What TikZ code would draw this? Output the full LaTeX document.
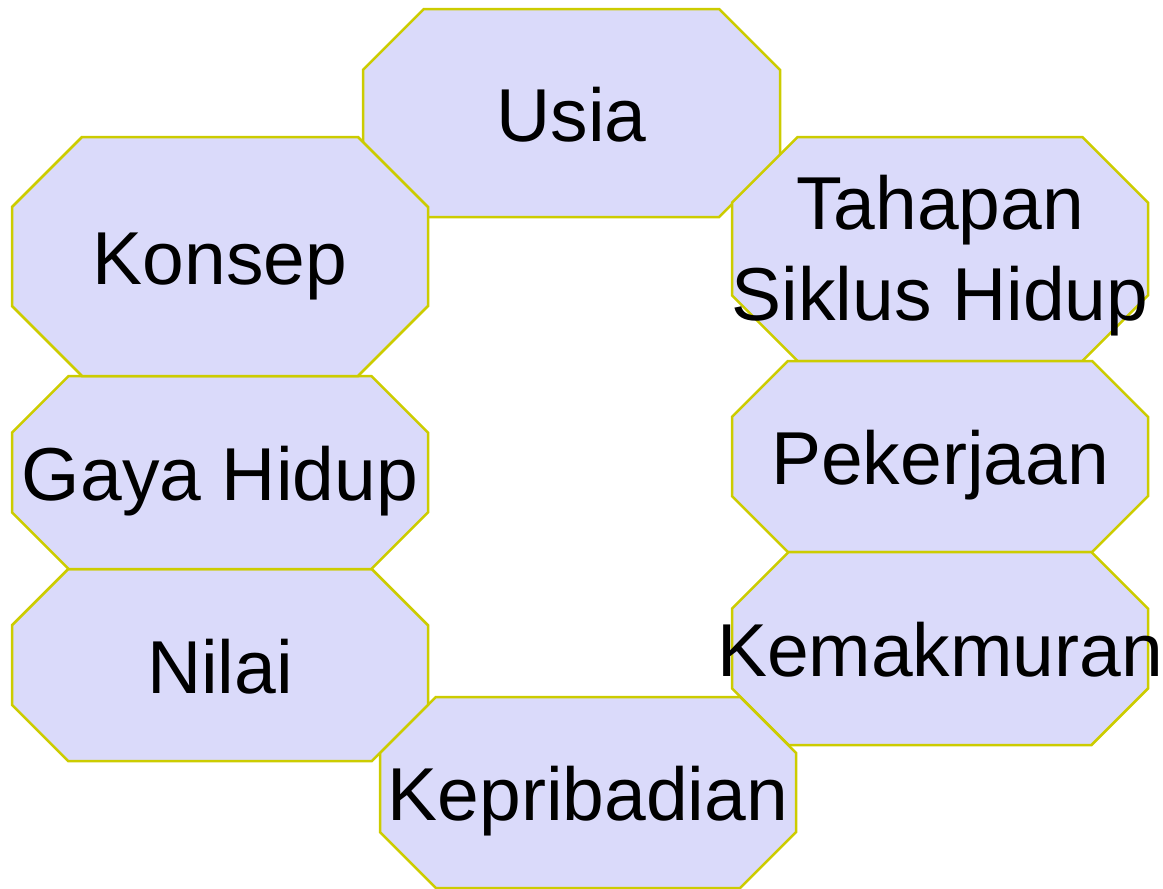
\documentclass[tikz,border=0pt]{standalone}
\usepackage{fontspec}
\setmainfont{Liberation Sans}
\definecolor{octfill}{RGB}{218,218,250}
\definecolor{octline}{RGB}{204,204,0}
\tikzset{
  octshape/.style={fill=octfill,draw=octline,line width=2.5pt,line join=miter},
  octtext/.style={font=\fontsize{75}{88}\selectfont,text height=56pt,text depth=0pt,inner sep=0pt,align=center}
}
% #1 x1, #2 y1, #3 x2, #4 y2
\newcommand\octpath[4]{%
  \pgfmathsetmacro\octcut{0.2929*(#4-#2)}%
  \path[octshape] ({#1+\octcut},#2) -- ({#3-\octcut},#2) -- (#3,{#2+\octcut}) -- (#3,{#4-\octcut})
     -- ({#3-\octcut},#4) -- ({#1+\octcut},#4) -- (#1,{#4-\octcut}) -- (#1,{#2+\octcut}) -- cycle;%
}
\newcommand\octlabel[7][]{%
  \node[octtext,#1] (#2) at ({(#3+#5)/2},{(#4+#6)/2}) {#7};%
}
\begin{document}
\begin{tikzpicture}[x=1pt,y=-1pt]
\useasboundingbox (0,0) rectangle (1163,889);
\octpath{363}{9}{780}{217}
\octpath{732}{137}{1148}{361}
\octpath{732}{361}{1148}{552}
\octpath{732}{552}{1148}{745}
\octpath{380}{697}{796}{888}
\octpath{12}{569}{428}{761}
\octpath{12}{376}{428}{569}
\octpath{12}{137}{428}{376}
\octlabel{usia}{363}{9}{780}{217}{Usia}
\octlabel[yshift=-43pt]{tahapan}{732}{137}{1148}{361}{Tahapan\\[3pt]Siklus Hidup}
\octlabel{pekerjaan}{732}{361}{1148}{552}{Pekerjaan}
\octlabel{kemakmuran}{732}{552}{1148}{745}{Kemakmuran}
\octlabel{kepribadian}{380}{697}{796}{888}{Kepribadian}
\octlabel{nilai}{12}{569}{428}{761}{Nilai}
\octlabel{gaya}{12}{376}{428}{569}{Gaya Hidup}
\octlabel{konsep}{12}{137}{428}{376}{Konsep}
\end{tikzpicture}
\end{document}
